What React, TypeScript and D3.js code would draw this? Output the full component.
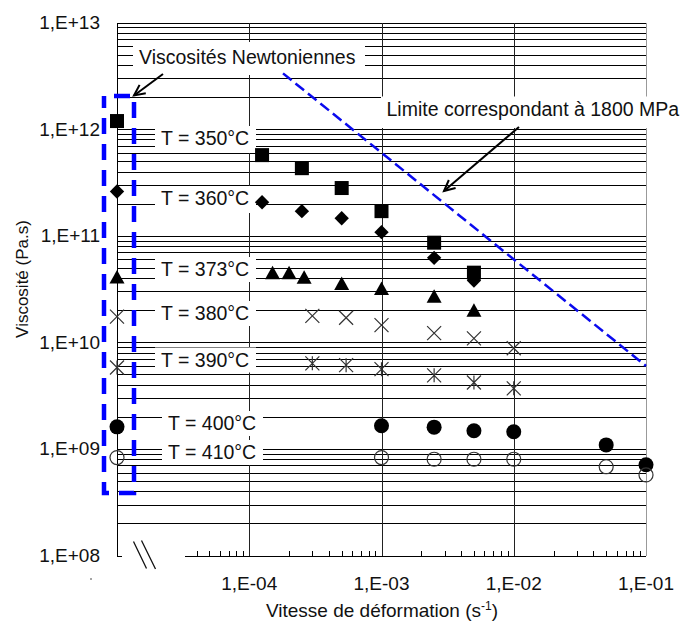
import React from 'react';
import * as d3 from 'd3';

const W = 682, H = 626;
const FONT = '"Liberation Sans", Arial, sans-serif';

// ---- data ----
const seriesNames = ['T = 350°C', 'T = 360°C', 'T = 373°C', 'T = 380°C', 'T = 390°C', 'T = 400°C', 'T = 410°C'];
const newtonianVisc = [1.19e12, 2.6e11, 4.1e10, 1.74e10, 5.8e9, 1.61e9, 8.3e8];

const rates350 = [1.25e-4, 2.5e-4, 5e-4, 1e-3, 2.5e-3, 5e-3];
const visc350 = [5.7e11, 4.3e11, 2.8e11, 1.7e11, 8.6e10, 4.5e10];
const rates360 = [1.25e-4, 2.5e-4, 5e-4, 1e-3, 2.5e-3, 5e-3];
const visc360 = [2.06e11, 1.7e11, 1.46e11, 1.08e11, 6.2e10, 3.8e10];
const rates373 = [1.5e-4, 2e-4, 2.6e-4, 5e-4, 1e-3, 2.5e-3, 5e-3];
const visc373 = [4.5e10, 4.5e10, 4.07e10, 3.57e10, 3.2e10, 2.7e10, 2.0e10];
const rates380 = [3e-4, 5.4e-4, 1e-3, 2.5e-3, 5e-3, 1e-2];
const visc380 = [1.77e10, 1.7e10, 1.45e10, 1.22e10, 1.09e10, 8.8e9];
const rates390 = [3e-4, 5.4e-4, 1e-3, 2.5e-3, 5e-3, 1e-2];
const visc390 = [6.35e9, 6.1e9, 5.6e9, 4.9e9, 4.2e9, 3.7e9];
const rates400 = [1e-3, 2.5e-3, 5e-3, 1e-2, 5e-2, 1e-1];
const visc400 = [1.65e9, 1.6e9, 1.48e9, 1.45e9, 1.09e9, 7.1e8];
const rates410 = [1e-3, 2.5e-3, 5e-3, 1e-2, 5e-2, 1e-1];
const visc410 = [8.3e8, 8.0e8, 8.0e8, 8.0e8, 6.8e8, 5.7e8];

const markerKinds = ['square', 'diamond', 'triangle', 'cross', 'asterisk', 'disc', 'ring'];

// limit line: viscosity = 600 MPa / strain rate (1800 MPa)
const limitStress = 6e8;
const limitRates = [1.8e-4, 1e-1];

const yTickValues = [1e8, 1e9, 1e10, 1e11, 1e12, 1e13];
const xTickValues = [1e-4, 1e-3, 1e-2, 1e-1];

// label layout (annotation positions)
const labelX = [161, 161, 161, 161, 161, 168, 168];
const labelY = [145, 205, 276, 320, 366.5, 430, 459];

const x = d3.scaleLog().domain([1e-5, 1e-1]).range([117, 646]);
const y = d3.scaleLog().domain([1e8, 1e13]).range([555.5, 22.5]);

const fmtY = (v: number) => '1,E+' + String(Math.round(Math.log10(v))).padStart(2, '0');
const fmtX = (v: number) => '1,E-' + String(Math.round(-Math.log10(v))).padStart(2, '0');

function Marker({ kind, cx, cy }: { kind: string; cx: number; cy: number }) {
  const s = 7;
  switch (kind) {
    case 'square':
      return <rect x={cx - 7} y={cy - 7} width={14} height={14} fill="#000" />;
    case 'diamond':
      return <path d={`M${cx},${cy - 7.2}L${cx + 7.2},${cy}L${cx},${cy + 7.2}L${cx - 7.2},${cy}Z`} fill="#000" />;
    case 'triangle':
      return <path d={`M${cx},${cy - 7}L${cx + 7.5},${cy + 6.5}L${cx - 7.5},${cy + 6.5}Z`} fill="#000" />;
    case 'cross':
      return <path d={`M${cx - s},${cy - s}L${cx + s},${cy + s}M${cx - s},${cy + s}L${cx + s},${cy - s}`} stroke="#333" strokeWidth={1.2} fill="none" />;
    case 'asterisk':
      return <path d={`M${cx - s},${cy - s}L${cx + s},${cy + s}M${cx - s},${cy + s}L${cx + s},${cy - s}M${cx},${cy - s}L${cx},${cy + s}`} stroke="#333" strokeWidth={1.2} fill="none" />;
    case 'disc':
      return <circle cx={cx} cy={cy} r={7.5} fill="#000" />;
    default:
      return <circle cx={cx} cy={cy} r={7} fill="#fff" fillOpacity={0} stroke="#333" strokeWidth={1.2} />;
  }
}

function arrowHead(x1: number, y1: number, x2: number, y2: number, len = 12, ang = 0.45) {
  const a = Math.atan2(y2 - y1, x2 - x1);
  const p1 = [x2 - len * Math.cos(a - ang), y2 - len * Math.sin(a - ang)];
  const p2 = [x2 - len * Math.cos(a + ang), y2 - len * Math.sin(a + ang)];
  return `M${p1[0]},${p1[1]}L${x2},${y2}L${p2[0]},${p2[1]}`;
}

export default function App() {
  const series = [
    [rates350, visc350], [rates360, visc360], [rates373, visc373], [rates380, visc380],
    [rates390, visc390], [rates400, visc400], [rates410, visc410],
  ];
  const [x0, x1] = x.range();
  const [yb, yt] = y.range();

  const hGrid: number[] = [];
  for (let d = 8; d < 13; d++) for (let m = 1; m <= 9; m++) hGrid.push(m * Math.pow(10, d));
  hGrid.push(1e13);

  const minorX: number[] = [];
  for (let d = -5; d < -1; d++) for (let m = 2; m <= 9; m++) {
    const v = m * Math.pow(10, d);
    if (x(v) > 185) minorX.push(v);
  }

  const limitLine = d3.line<number>().x((r) => x(r)).y((r) => y(limitStress / r));

  const txt = { fontFamily: FONT, fill: '#111' } as const;
  const FS = 19.5;

  return (
    <svg width={W} height={H} style={{ position: 'absolute', left: 0, top: 0, background: '#fff' }}>
      <rect width={W} height={H} fill="#fff" />
      <g shapeRendering="crispEdges">
        {hGrid.filter((v) => v > 1e8).map((v, i) => (
          <line key={i} x1={x0} x2={x1} y1={Math.round(y(v)) + 0.5} y2={Math.round(y(v)) + 0.5} stroke="#000" strokeWidth={1} />
        ))}
        {xTickValues.slice(0, 3).map((v, i) => (
          <line key={'v' + i} x1={Math.round(x(v)) + 0.5} x2={Math.round(x(v)) + 0.5} y1={yt} y2={yb} stroke="#222" strokeWidth={1} />
        ))}
        <line x1={Math.round(x1) + 0.5} x2={Math.round(x1) + 0.5} y1={yt} y2={yb} stroke="#999" strokeWidth={1} />
        <line x1={x0 + 0.5} x2={x0 + 0.5} y1={yt} y2={yb} stroke="#000" strokeWidth={1} />
        <line x1={185} x2={x1} y1={Math.round(yb) + 0.5} y2={Math.round(yb) + 0.5} stroke="#000" />
        <line x1={x0} x2={x0 + 5} y1={Math.round(yb) + 0.5} y2={Math.round(yb) + 0.5} stroke="#000" />
        {minorX.map((v, i) => (
          <line key={'t' + i} x1={Math.round(x(v)) + 0.5} x2={Math.round(x(v)) + 0.5} y1={yb - 5} y2={yb} stroke="#000" />
        ))}
      </g>
      <path d="M133.5,541.5L146.5,568.5M141.5,540.5L155.5,569" stroke="#111" strokeWidth={1.3} />

      <rect x={133} y={42} width={232} height={33} fill="#fff" />
      <rect x={381} y={96.5} width={301} height={31.5} fill="#fff" />
      {seriesNames.map((n, i) => (
        <rect key={i} x={labelX[i] - 6} y={labelY[i] - 19} width={101} height={i < 2 ? 27 : 25} fill="#fff" />
      ))}

      <text x={139} y={63.5} fontSize={FS} {...txt}>Viscosités Newtoniennes</text>
      <text x={386.5} y={116} fontSize={FS} {...txt}>Limite correspondant à 1800 MPa</text>
      {seriesNames.map((n, i) => (
        <text key={i} x={labelX[i]} y={labelY[i]} fontSize={FS} {...txt}>{n}</text>
      ))}

      <path d={limitLine(limitRates) || ''} stroke="#0a0aee" strokeWidth={2.5} strokeDasharray="11 5" fill="none" />

      {series.map(([rs, vs], si) => (
        <g key={si}>
          <Marker kind={markerKinds[si]} cx={x0} cy={y(newtonianVisc[si])} />
          {rs.map((r, j) => (
            <Marker key={j} kind={markerKinds[si]} cx={x(r)} cy={y(vs[j])} />
          ))}
        </g>
      ))}

      <rect x={104} y={96} width={30} height={397} fill="none" stroke="#0000ff" strokeWidth={4.5} strokeDasharray="16 10" strokeDashoffset={-10} />

      <path d={`M163,74L134,95.5`} stroke="#000" strokeWidth={2} fill="none" />
      <path d={arrowHead(163, 74, 134, 95.5)} stroke="#000" strokeWidth={2} fill="none" />
      <path d={`M519,127L444,191`} stroke="#000" strokeWidth={2} fill="none" />
      <path d={arrowHead(519, 127, 444, 191)} stroke="#000" strokeWidth={2} fill="none" />

      {yTickValues.map((v, i) => (
        <text key={i} x={100} y={y(v) + 6.5} textAnchor="end" fontSize={19} {...txt}>{fmtY(v)}</text>
      ))}
      {xTickValues.map((v, i) => (
        <text key={i} x={x(v)} y={590} textAnchor="middle" fontSize={19} {...txt}>{fmtX(v)}</text>
      ))}

      <text x={382} y={617} textAnchor="middle" fontSize={19} {...txt}>
        Vitesse de déformation (s<tspan dy={-7} fontSize={12}>-1</tspan><tspan dy={7}>)</tspan>
      </text>
      <text transform="translate(28,279) rotate(-90)" textAnchor="middle" fontSize={17} {...txt}>Viscosité (Pa.s)</text>
      <circle cx={91} cy={579} r={0.8} fill="#333" />
    </svg>
  );
}
